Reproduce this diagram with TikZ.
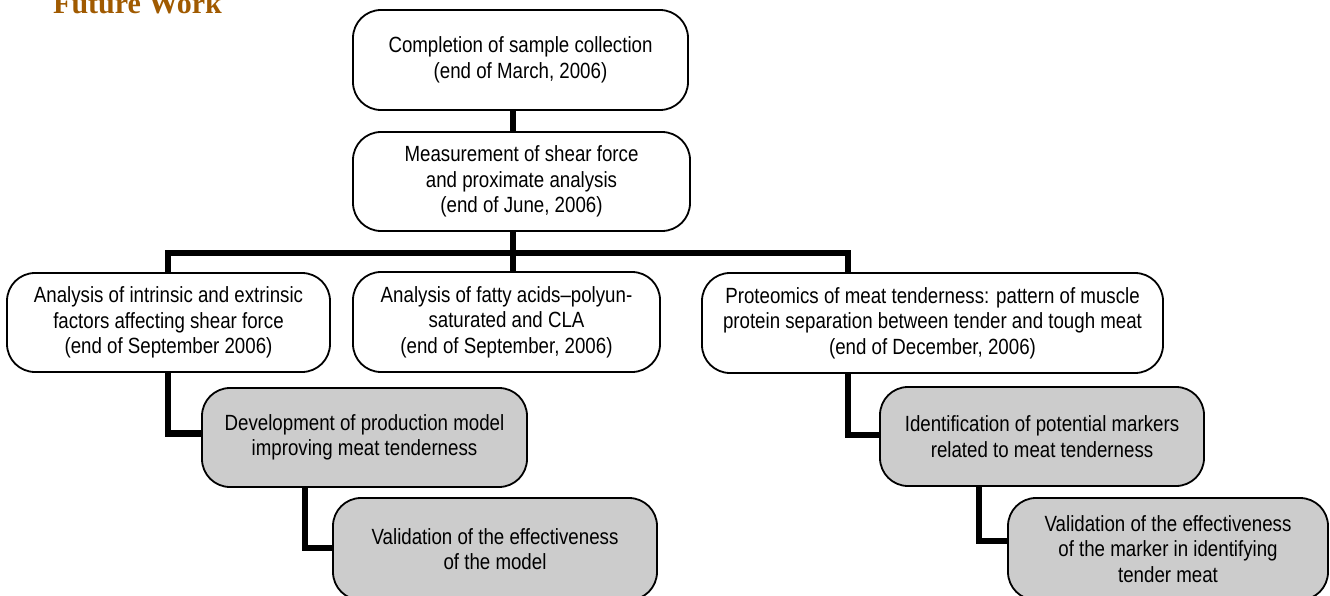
\documentclass[tikz,border=0pt]{standalone}
\usepackage{fontspec}
\setmainfont{Liberation Sans}[FakeStretch=0.85]
\newfontfamily\titlefont{Liberation Serif}
\usetikzlibrary{calc}
\pgfdeclarelayer{bg}
\pgfsetlayers{bg,main}
\definecolor{titlebrown}{RGB}{160,90,0}
\definecolor{boxgray}{RGB}{204,204,204}
\tikzset{
  box/.style={draw=black, line width=1.8pt, rounded corners=28pt, fill=white,
    align=center, inner sep=0pt,
    font=\fontsize{22}{25.5}\selectfont},
  graybox/.style={box, fill=boxgray},
  conn/.style={draw=black, line width=6.5pt, line join=miter},
}
\begin{document}
\begin{tikzpicture}[x=1pt,y=-1pt]
\useasboundingbox (0,0) rectangle (1330,596);
\node[anchor=base west, text=titlebrown, font=\titlefont\bfseries\fontsize{30}{30}\selectfont, inner sep=0pt] (title) at (53,14) {Future Work};

\node[box, minimum width=335pt, minimum height=100pt] (n1) at (520.5,60) {Completion of sample collection\\(end of March, 2006)};
\node[box, minimum width=337pt, minimum height=99pt] (n2) at (521.5,181.5) {Measurement of shear force\\and proximate analysis\\(end of June, 2006)};
\node[box, minimum width=323pt, minimum height=99pt] (nA) at (168.5,322.5) {Analysis of intrinsic and extrinsic\\factors affecting shear force\\(end of September 2006)};
\node[box, minimum width=307pt, minimum height=100pt] (nB) at (506.5,322) {Analysis of fatty acids--polyun-\\saturated and CLA\\(end of September, 2006)};
\node[box, minimum width=461pt, minimum height=100pt] (nC) at (932.5,323) {Proteomics of meat tenderness: pattern of muscle\\protein separation between tender and tough meat\\(end of December, 2006)};
\node[graybox, minimum width=325pt, minimum height=99pt] (nD) at (364.5,437.5) {Development of production model\\improving meat tenderness};
\node[graybox, minimum width=324pt, minimum height=102pt] (nE) at (495,549) {Validation of the effectiveness\\of the model};
\node[graybox, minimum width=324pt, minimum height=99pt] (nF) at (1042,436.5) {Identification of potential markers\\related to meat tenderness};
\node[graybox, minimum width=320pt, minimum height=102pt] (nG) at (1168,549) {Validation of the effectiveness\\of the marker in identifying\\tender meat};

\coordinate (bus) at (513,253);
\coordinate (bL) at (168,253);
\coordinate (bR) at (848,253);
\coordinate (dx) at (305,0);
\coordinate (fx) at (979,0);

\begin{pgfonlayer}{bg}
\draw[conn] (n1.south -| bus) -- (n2.north -| bus);
\draw[conn] (n2.south -| bus) -- (nB.north -| bus);
\draw[conn] (nA.north -| bL) -- (bL) -- (bR) -- (nC.north -| bR);
\draw[conn] (nA.south -| bL) |- ([yshift=4pt]nD.west);
\draw[conn] (nD.south -| dx) |- ([yshift=1pt]nE.west);
\draw[conn] (nC.south -| bR) |- ([yshift=1.5pt]nF.west);
\draw[conn] (nF.south -| fx) |- ([yshift=8pt]nG.west);
\end{pgfonlayer}
\end{tikzpicture}
\end{document}
